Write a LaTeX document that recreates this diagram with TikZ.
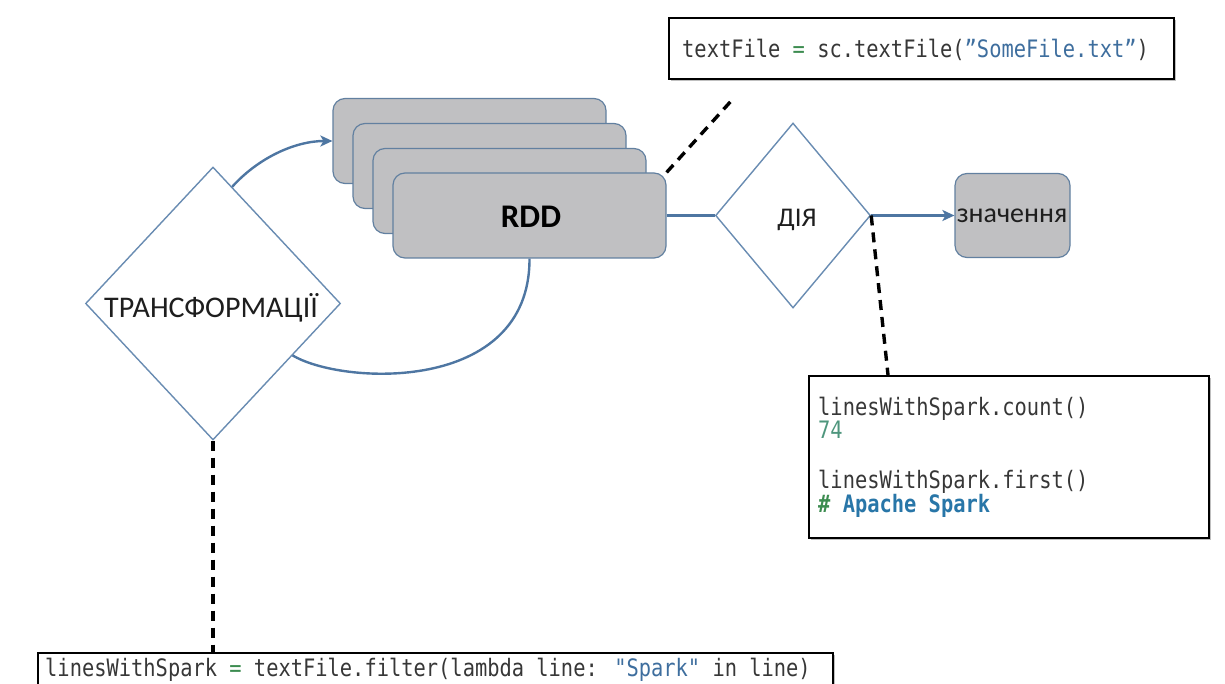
\documentclass[tikz,border=0pt]{standalone}
\usepackage{fontspec}
\usetikzlibrary{shapes.geometric,arrows.meta,shadows,calc}
\newfontfamily\codefont[FakeStretch=0.85]{DejaVu Sans Mono}
\newfontfamily\labelfont{Carlito}
\definecolor{diaborder}{RGB}{105,140,178}
\definecolor{linkcol}{RGB}{78,118,162}
\definecolor{rddfill}{RGB}{192,192,194}
\definecolor{rddborder}{RGB}{98,128,160}
\definecolor{codetext}{RGB}{55,55,55}
\definecolor{cgreen}{RGB}{60,140,80}
\definecolor{cblue}{RGB}{62,110,158}
\definecolor{cteal}{RGB}{78,150,125}
\definecolor{cspark}{RGB}{40,118,168}
\definecolor{labeltext}{RGB}{30,30,30}
\begin{document}
\begin{tikzpicture}[x=1pt,y=-1pt,
  dia/.style={shape=diamond, draw=diaborder, line width=1.4pt, fill=white, inner sep=0pt},
  rddbox/.style={draw=rddborder, line width=1.2pt, fill=rddfill, rounded corners=12pt,
    minimum width=273pt, minimum height=85pt, inner sep=0pt},
  codebox/.style={draw=black, line width=1.6pt, fill=white,
    drop shadow={opacity=0.5, shadow xshift=2.5pt, shadow yshift=-2.5pt}},
  code/.style={font=\codefont\fontsize{24}{24}\selectfont, text=codetext, inner sep=0pt},
  lbl/.style={font=\labelfont\fontsize{30}{34}\selectfont, text=labeltext, inner sep=0pt},
  link/.style={draw=linkcol, line width=2.4pt},
  linkarrow/.style={link, -{Stealth[length=12pt,width=11pt,inset=3pt]}},
  callout/.style={draw=black, line width=3.4pt, dash pattern=on 10pt off 7pt}
]
\useasboundingbox (0,0) rectangle (1225,684);
\clip (0,0) rectangle (1225,684);

% RDD stack, back to front
\node[rddbox] (r1) at (469.5,141) {};
\node[rddbox] (r2) at (489.5,166) {};
\node[rddbox] (r3) at (509.5,191) {};
\node[rddbox] (r4) at (529.5,215.5) {};
\node[font=\labelfont\bfseries\fontsize{33}{36}\selectfont, text=black, anchor=base] (rddlbl) at (531,228) {RDD};

% loop arcs of the transformation step
\coordinate (loopout) at (232,187);
\coordinate (loopin) at (292,355);
\draw[linkarrow] (loopout) .. controls (258,158) and (295,141) .. (r1.west);
\draw[link] (loopin) .. controls (340,385) and (530,395) .. (r4.south);

% transformation diamond
\node[dia, minimum width=255pt, minimum height=273pt] (tr) at (213,303.5) {};
\node[lbl, anchor=base] (trlbl) at (211,317) {ТРАНСФОРМАЦІЇ};

% action diamond and value
\node[dia, minimum width=155pt, minimum height=185pt] (act) at (793,215.5) {};
\node[lbl, font=\labelfont\fontsize{27}{30}\selectfont, anchor=base] (actlbl) at (797,227) {ДІЯ};
\node[rddbox, minimum width=115pt, minimum height=84pt] (val) at (1012.5,215.5) {};
\node[lbl, font=\labelfont\fontsize{28}{30}\selectfont, anchor=base] (vallbl) at (1012,223) {значення};

\draw[link] (r4.east) -- (act.west);
\draw[linkarrow] (act.east) -- (val.west);

% code callouts
\node[codebox, minimum width=505pt, minimum height=61pt, anchor=north west] (tfbox) at (668,17) {};
\node[code, anchor=base west] (tfcode) at (682,58)
  {textFile {\color{cgreen}=} sc.textFile({\color{cblue}”SomeFile.txt”})};

\node[codebox, minimum width=400pt, minimum height=162pt, anchor=north west] (actbox) at (808,375) {};
\node[code, anchor=base west] (cnt) at (818,415) {linesWithSpark.count()};
\node[code, anchor=base west, text=cteal] (cntval) at (818,438) {74};
\node[code, anchor=base west] (fst) at (818,488) {linesWithSpark.first()};
\node[code, anchor=base west, font=\codefont\bfseries\fontsize{24}{24}\selectfont] (fstval) at (818,512)
  {{\color{cgreen}\#} {\color{cspark}Apache Spark}};

\node[codebox, minimum width=795pt, minimum height=60pt, anchor=north west] (trbox) at (37,652) {};
\node[code, anchor=base west] (trcode) at (45,676)
  {linesWithSpark {\color{cgreen}=} textFile.filter(lambda line: {\color{cblue}"Spark"} in line)};

% dashed leaders from the steps to their code
\coordinate (tfend) at (732,100);
\coordinate (actend) at (888,375);
\coordinate (trend) at (213,652);
\draw[callout] (r4.north east) -- (tfend);
\draw[callout] (act.east) -- (actend);
\draw[callout] (tr.south) -- (trend);
\end{tikzpicture}
\end{document}
